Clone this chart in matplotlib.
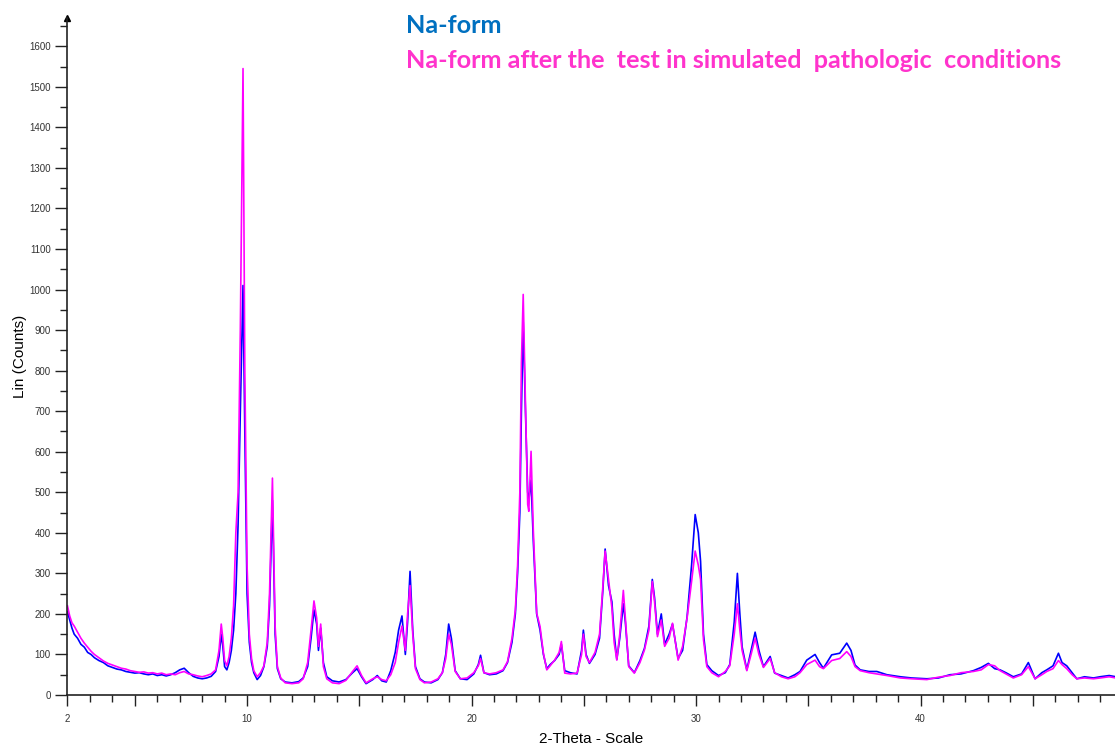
import matplotlib.pyplot as plt
import numpy as np
from matplotlib.ticker import FixedLocator, MultipleLocator, FuncFormatter

# 2-theta positions (deg) and intensities (counts) of the two diffractograms
two_theta = [
    2.0, 2.1, 2.2, 2.3, 2.45, 2.6, 2.75, 2.9, 3.05, 3.2, 3.4, 3.6, 3.8, 4.0,
    4.2, 4.4, 4.6, 4.8, 5.0, 5.2, 5.4, 5.6, 5.8, 6.0, 6.2, 6.4, 6.6, 6.8, 7.0,
    7.2, 7.4, 7.6, 7.8, 8.0, 8.2, 8.4, 8.6, 8.75, 8.85, 8.92, 9.0, 9.1, 9.2,
    9.3, 9.4, 9.5, 9.6, 9.7, 9.82, 9.9, 10.0, 10.1, 10.2, 10.3, 10.45, 10.6,
    10.75, 10.9, 11.0, 11.13, 11.25, 11.35, 11.5, 11.7, 12.0, 12.3, 12.5, 12.7,
    12.85, 12.98, 13.1, 13.18, 13.28, 13.4, 13.55, 13.8, 14.1, 14.4, 14.7, 14.9,
    15.1, 15.3, 15.6, 15.8, 16.0, 16.2, 16.4, 16.6, 16.75, 16.9, 17.05, 17.15,
    17.26, 17.38, 17.5, 17.7, 17.9, 18.2, 18.5, 18.7, 18.85, 18.98, 19.1, 19.27,
    19.5, 19.8, 20.1, 20.3, 20.4, 20.55, 20.8, 21.1, 21.4, 21.6, 21.8, 21.95,
    22.05, 22.15, 22.22, 22.3, 22.4, 22.5, 22.55, 22.65, 22.75, 22.9, 23.05,
    23.2, 23.35, 23.5, 23.7, 23.9, 24.0, 24.15, 24.4, 24.7, 24.9, 24.98, 25.1,
    25.25, 25.5, 25.7, 25.85, 25.95, 26.1, 26.25, 26.35, 26.47, 26.6, 26.76,
    26.85, 27.0, 27.25, 27.5, 27.7, 27.9, 28.05, 28.15, 28.28, 28.45, 28.6,
    28.8, 28.95, 29.2, 29.4, 29.6, 29.8, 29.96, 30.1, 30.2, 30.33, 30.48, 30.7,
    31.0, 31.3, 31.5, 31.7, 31.84, 31.95, 32.05, 32.26, 32.45, 32.63, 32.8,
    33.0, 33.3, 33.5, 33.8, 34.1, 34.4, 34.63, 34.93, 35.3, 35.5, 35.67, 36.04,
    36.4, 36.71, 36.9, 37.08, 37.31, 37.7, 38.05, 38.5, 39.1, 39.6, 40.28, 40.8,
    41.31, 41.8, 42.35, 42.7, 43.02, 43.3, 43.54, 43.8, 44.13, 44.5, 44.8, 45.1,
    45.4, 45.62, 45.9, 46.14, 46.3, 46.51, 46.75, 46.96, 47.3, 47.7, 48.0, 48.4,
    48.7,
]

na_form = [
    205, 185, 165, 150, 140, 125, 118, 105, 100, 92, 85, 80, 72, 68,
    64, 62, 58, 56, 54, 55, 52, 50, 52, 48, 50, 47, 50, 55, 62,
    66, 55, 46, 42, 40, 42, 46, 58, 95, 150, 120, 70, 62, 80,
    110, 160, 250, 420, 700, 1010, 650, 250, 130, 80, 55, 38, 48,
    70, 120, 220, 480, 150, 65, 40, 32, 30, 33, 42, 70,
    140, 210, 175, 110, 165, 80, 45, 35, 32, 38, 55, 65,
    45, 28, 38, 48, 35, 32, 60, 105, 160, 195, 100, 180,
    305, 160, 70, 40, 32, 30, 38, 55, 100, 175, 140, 60,
    40, 38, 52, 75, 98, 55, 50, 52, 60, 80, 130, 200,
    300, 450, 700, 920, 700, 500, 480, 530, 380, 200, 160,
    100, 65, 75, 85, 100, 125, 60, 55, 52, 110, 160, 100,
    78, 100, 140, 260, 360, 270, 230, 150, 88, 140, 225,
    180, 72, 55, 85, 115, 170, 285, 240, 150, 200, 125,
    150, 175, 90, 110, 193, 320, 445, 400, 330, 150, 75, 60,
    48, 55, 75, 180, 300, 200, 119, 62, 110, 155, 110,
    70, 95, 54, 48, 42, 50, 58, 86, 100, 80, 66, 99,
    103, 128, 110, 74, 62, 58, 58, 50, 45, 42, 40, 42,
    50, 52, 60, 68, 78, 65, 62, 55, 45, 52, 80, 40,
    55, 62, 72, 103, 80, 72, 55, 40, 45, 42, 45, 48,
    45,
]

na_form_tested = [
    220, 195, 178, 170, 155, 140, 128, 118, 108, 100, 92, 84, 78, 74,
    70, 66, 64, 60, 58, 56, 57, 54, 55, 52, 54, 50, 52, 50, 55,
    58, 52, 50, 47, 45, 48, 52, 62, 110, 175, 140, 85, 72, 95,
    140, 220, 400, 500, 900, 1545, 800, 320, 150, 90, 60, 45, 55,
    72, 130, 250, 535, 170, 70, 42, 30, 28, 30, 40, 80,
    160, 232, 190, 120, 175, 70, 40, 30, 28, 36, 58, 72,
    48, 30, 40, 45, 38, 35, 50, 80, 130, 170, 110, 200,
    270, 150, 65, 38, 30, 32, 40, 55, 90, 150, 125, 58,
    40, 42, 55, 72, 90, 55, 52, 55, 62, 82, 140, 210,
    320, 500, 820, 988, 720, 470, 453, 601, 407, 202, 169,
    103, 62, 72, 86, 105, 132, 54, 52, 54, 100, 150, 95,
    80, 105, 150, 270, 355, 284, 215, 130, 86, 150, 258,
    190, 70, 54, 80, 111, 160, 280, 230, 144, 185, 120,
    140, 177, 86, 120, 190, 280, 355, 320, 285, 136, 70, 55,
    45, 58, 72, 150, 225, 160, 110, 60, 100, 140, 100,
    68, 90, 55, 45, 40, 45, 55, 75, 86, 70, 65, 85,
    90, 107, 95, 70, 60, 55, 52, 48, 42, 40, 38, 44,
    48, 55, 58, 62, 75, 72, 60, 52, 42, 50, 70, 40,
    50, 58, 65, 85, 75, 65, 50, 40, 42, 40, 42, 45,
    42,
]

y_ticks = np.arange(0, 1700, 100)
x_labels = {2: "2", 10: "10", 20: "20", 30: "30", 40: "40"}

plt.rcParams["font.family"] = ["Liberation Sans", "DejaVu Sans"]

fig = plt.figure(figsize=(11.15, 7.49), dpi=100)
ax = fig.add_axes([0.0605, 0.0721, 0.9395, 0.904])

ax.plot(two_theta, na_form, color="#0000ff", lw=1.2)
ax.plot(two_theta, na_form_tested, color="#ff00ff", lw=1.2)

ax.set_xlim(2, 48.66)
ax.set_ylim(0, 1670)

for side in ("top", "right"):
    ax.spines[side].set_visible(False)
for side in ("left", "bottom"):
    ax.spines[side].set_color("#222222")
    ax.spines[side].set_linewidth(1.2)

# arrow head on top of the y axis
ax.plot([0], [1.0], marker="^", color="black", markersize=5,
        transform=ax.transAxes, clip_on=False)

ax.yaxis.set_major_locator(FixedLocator(y_ticks))
ax.yaxis.set_minor_locator(MultipleLocator(50))
ax.xaxis.set_major_locator(FixedLocator([2] + list(range(5, 50, 5))))
ax.xaxis.set_minor_locator(MultipleLocator(1))
ax.xaxis.set_major_formatter(FuncFormatter(lambda v, p: x_labels.get(int(round(v)), "")))

ax.tick_params(axis="y", which="major", length=9, width=1, labelsize=7, pad=3,
               color="#222222", labelcolor="#333333")
ax.tick_params(axis="y", which="minor", length=5, width=1, color="#222222")
ax.tick_params(axis="x", which="major", length=8, width=1, labelsize=7, pad=6,
               color="#222222", labelcolor="#333333")
ax.tick_params(axis="x", which="minor", length=5, width=1, color="#222222")

ax.set_ylabel("Lin (Counts)", fontsize=11)
ax.yaxis.set_label_coords(-0.039, 0.5)
ax.set_xlabel("2-Theta - Scale", fontsize=11)
ax.xaxis.set_label_coords(0.5, -0.055)

fig.text(0.364, 0.966, "Na-form", color="#0070c0", fontsize=18.2,
         fontweight="bold", family="Lato", va="center")
fig.text(0.364, 0.919, "Na-form after the  test in simulated  pathologic  conditions",
         color="#ff33cc", fontsize=18.2, fontweight="bold", family="Lato", va="center")

fig.savefig("out.png", dpi=100)
